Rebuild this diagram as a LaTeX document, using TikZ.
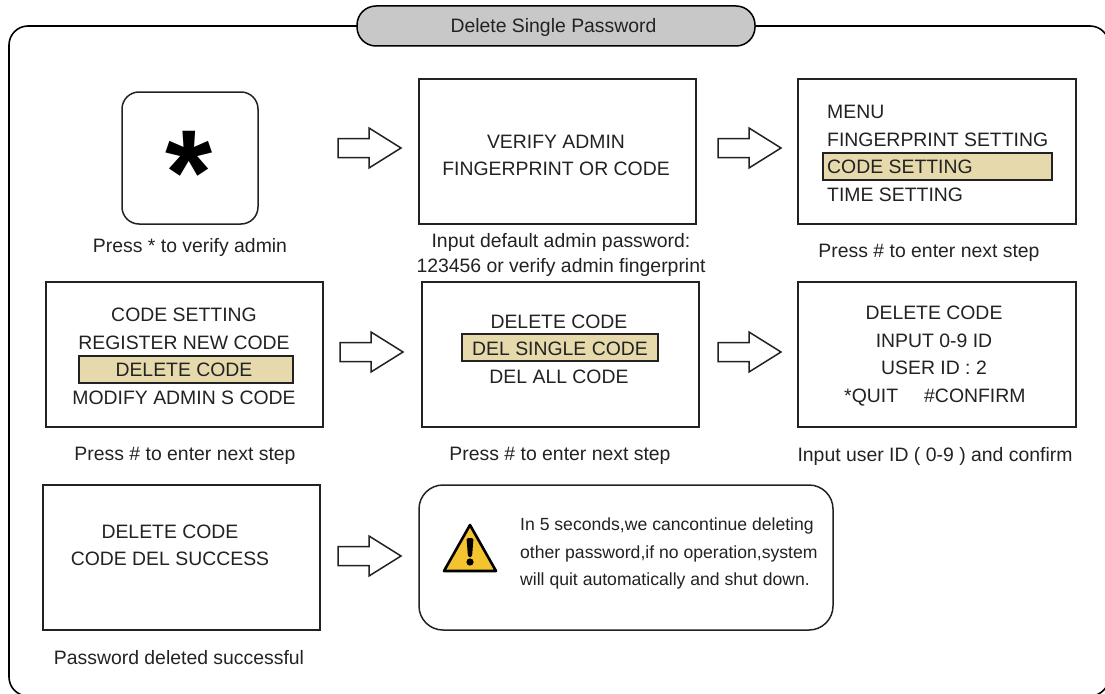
\documentclass[tikz,border=0pt]{standalone}
\usepackage{fontspec}
\setmainfont{Liberation Sans}
\definecolor{hl}{HTML}{E6DAAC}
\definecolor{pill}{HTML}{C8C8C8}
\definecolor{warn}{HTML}{F4C430}
\definecolor{ink}{HTML}{222222}
\tikzset{
 x=1pt,y=-1pt,
 box/.style={draw=ink,line width=1.5pt,fill=white},
 lab/.style={font=\fontsize{19.4}{21}\selectfont,text=ink,inner sep=0pt,anchor=center},
 captext/.style={font=\fontsize{19.4}{24.5}\selectfont,text=ink,inner sep=0pt,anchor=center,align=center},
 note/.style={font=\fontsize{17.6}{20}\selectfont,text=ink,inner sep=0pt,anchor=west},
 arr/.style={draw=ink,line width=1.5pt,fill=white,line join=miter},
 hbar/.style={draw=ink,line width=1.5pt,fill=hl},
}
\newcommand{\blockarrow}[3]{%
 \path[arr] (#2,#3) ++(0,-9.5) -- ++(31,0) -- ++(0,-10.5) -- ++(32,20) -- ++(-32,20) -- ++(0,-10.5) -- ++(-31,0) -- cycle;}
\begin{document}
\begin{tikzpicture}
\useasboundingbox (0,0) rectangle (1105,693);
\begin{scope}
\clip (0,0) rectangle (1105,693);
\draw[line width=1.6pt,draw=black,rounded corners=19pt] (9,696) rectangle (1109,26);
\end{scope}
\node[draw=black,line width=1.5pt,fill=pill,rounded corners=19pt,minimum width=398pt,minimum height=40pt,inner sep=0pt] (title) at (556,26) {};
\node[lab] (titlet) at (553.5,27) {Delete Single Password};
% row 1
\draw[box,rounded corners=17pt] (122,92) rectangle (258,224);
\node[inner sep=0pt,font=\fontsize{121}{121}\selectfont\bfseries] (star) at (189,173) {*};
\node[lab] (c1) at (190,247) {Press * to verify admin};
\blockarrow{a1}{338}{148}
\draw[box] (419,79) rectangle (696,224);
\node[lab] (t2a) at (556,142) {VERIFY ADMIN};
\node[lab] (t2b) at (556,169) {FINGERPRINT OR CODE};
\node[captext] (c2) at (561,255) {Input default admin password:\\123456 or verify admin fingerprint};
\blockarrow{a2}{718}{148}
\draw[box] (798,79) rectangle (1076,224);
\node[lab,anchor=west] (t3a) at (827,112) {MENU};
\node[lab,anchor=west] (t3b) at (827,140) {FINGERPRINT SETTING};
\draw[hbar] (823,153) rectangle (1052,180);
\node[lab,anchor=west] (t3c) at (827,167) {CODE SETTING};
\node[lab,anchor=west] (t3d) at (827,195) {TIME SETTING};
\node[lab] (c3) at (929,253) {Press \# to enter next step};
% row 2
\draw[box] (46,282) rectangle (323,427);
\node[lab] (t4a) at (184,315) {CODE SETTING};
\node[lab] (t4b) at (184,343) {REGISTER NEW CODE};
\draw[hbar] (79,356) rectangle (293,383);
\node[lab] (t4c) at (184,370) {DELETE CODE};
\node[lab] (t4d) at (184,398) {MODIFY ADMIN S CODE};
\node[lab] (c4) at (185,456) {Press \# to enter next step};
\blockarrow{a3}{340}{352}
\draw[box] (422,282) rectangle (699,427);
\node[lab] (t5a) at (559,322) {DELETE CODE};
\draw[hbar] (462,334) rectangle (658,361);
\node[lab] (t5b) at (560,349) {DEL SINGLE CODE};
\node[lab] (t5c) at (559,377) {DEL ALL CODE};
\node[lab] (c5) at (560,456) {Press \# to enter next step};
\blockarrow{a4}{718}{352}
\draw[box] (798,282) rectangle (1076,427);
\node[lab] (t6a) at (934,313) {DELETE CODE};
\node[lab] (t6b) at (934,341) {INPUT 0-9 ID};
\node[lab] (t6c) at (934,368) {USER ID : 2};
\node[lab,anchor=base west] (t6d) at (844,402.5) {*QUIT};
\node[lab,anchor=base west] (t6e) at (924,402.5) {\#CONFIRM};
\node[lab] (c6) at (935,456) {Input user ID ( 0-9 ) and confirm};
% row 3
\draw[box] (43,485) rectangle (320,630);
\node[lab] (t7a) at (170,532) {DELETE CODE};
\node[lab] (t7b) at (170,559) {CODE DEL SUCCESS};
\node[lab] (c7) at (179,658) {Password deleted successful};
\blockarrow{a5}{338}{556}
\draw[box,rounded corners=24pt] (419,485) rectangle (833,630);
\draw[line width=2.6pt,draw=black,fill=warn,line join=round] (470,525) -- (444,571) -- (496,571) -- cycle;
\fill[black,rounded corners=1.5pt] (466.5,538) -- (473.5,538) -- (472,557) -- (468,557) -- cycle;
\fill[black] (470,562) circle (3.6);
\node[note] (n1) at (520,526) {In 5 seconds,we cancontinue deleting};
\node[note] (n2) at (520,554) {other password,if no operation,system};
\node[note] (n3) at (520,581) {will quit automatically and shut down.};
\end{tikzpicture}
\end{document}
